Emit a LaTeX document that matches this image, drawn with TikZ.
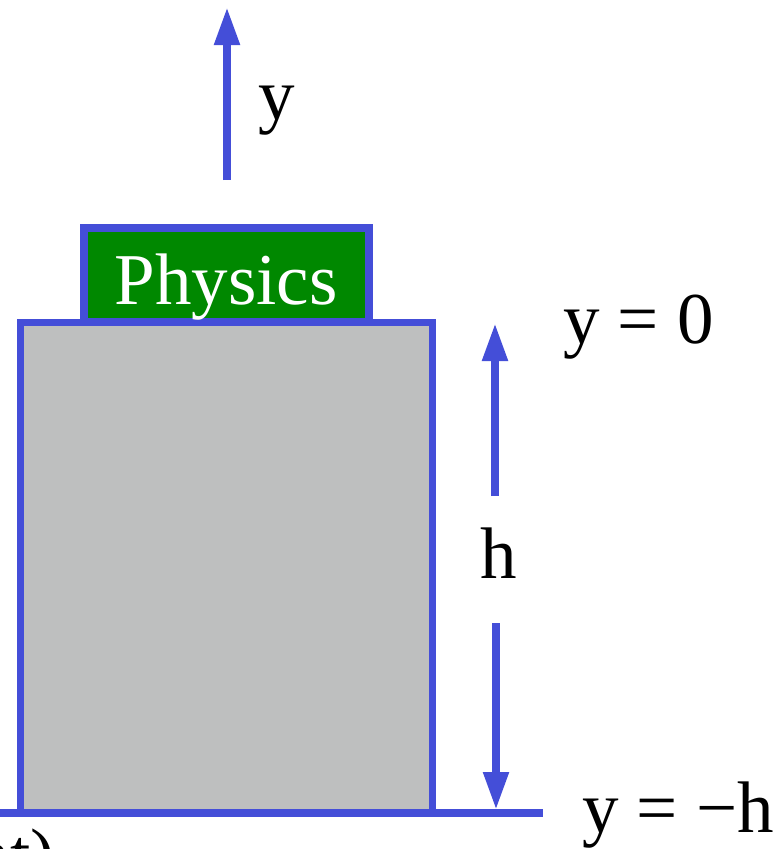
\documentclass[tikz,border=0pt]{standalone}
\usepackage{fontspec}
\setmainfont{Liberation Serif}
\usetikzlibrary{arrows.meta}

\definecolor{edgeblue}{RGB}{68,78,216}
\definecolor{blockgray}{RGB}{190,191,191}
\definecolor{labelgreen}{RGB}{0,136,0}

\tikzset{
  lbl/.style={inner sep=0pt, font=\fontsize{73}{88}\selectfont},
  axisarrow/.style={draw=edgeblue, line width=8pt,
    -{Triangle[length=38pt, width=24pt]}, edgeblue},
}

\begin{document}
\begin{tikzpicture}[x=1pt, y=-1pt]
    \useasboundingbox (0,0) rectangle (783,849);

    % Table block
    \node[draw=edgeblue, fill=blockgray, line width=7pt,
          minimum width=412pt, minimum height=491pt, inner sep=0pt]
          (table) at (226,567.5) {};

    % Ground
    \coordinate (gleft) at (0,813);
    \coordinate (gright) at (543,813);
    \draw[edgeblue, line width=8pt] (gleft) -- (gright);

    % Book on top
    \node[draw=edgeblue, fill=labelgreen, line width=8pt,
          minimum width=285pt, minimum height=94pt, inner sep=0pt]
          (book) at (226.5,275) {};
    \node[lbl, anchor=base, text=white] (booktxt) at (226,304) {Physics};

    % y axis
    \coordinate (ytail) at (227,180);
    \coordinate (ytip) at (227,7);
    \draw[axisarrow] (ytail) -- (ytip);
    \node[lbl, anchor=base west] (ylbl) at (258,119) {y};

    % Height h
    \coordinate (hupstart) at (495,496);
    \coordinate (hup) at (495,323);
    \coordinate (hdownstart) at (496,623);
    \coordinate (hdown) at (496,810);
    \draw[axisarrow] (hupstart) -- (hup);
    \draw[axisarrow] (hdownstart) -- (hdown);
    \node[lbl, anchor=base west] (hlbl) at (480,578) {h};

    % Levels
    \node[lbl, anchor=base west] (yzero) at (563,343) {y = 0};
    \node[lbl, anchor=base west] (yminush) at (582,832) {y = −h};

    % cut-off caption
    \node[lbl, anchor=base east] (caption) at (55,879) {nt)};
\end{tikzpicture}
\end{document}
